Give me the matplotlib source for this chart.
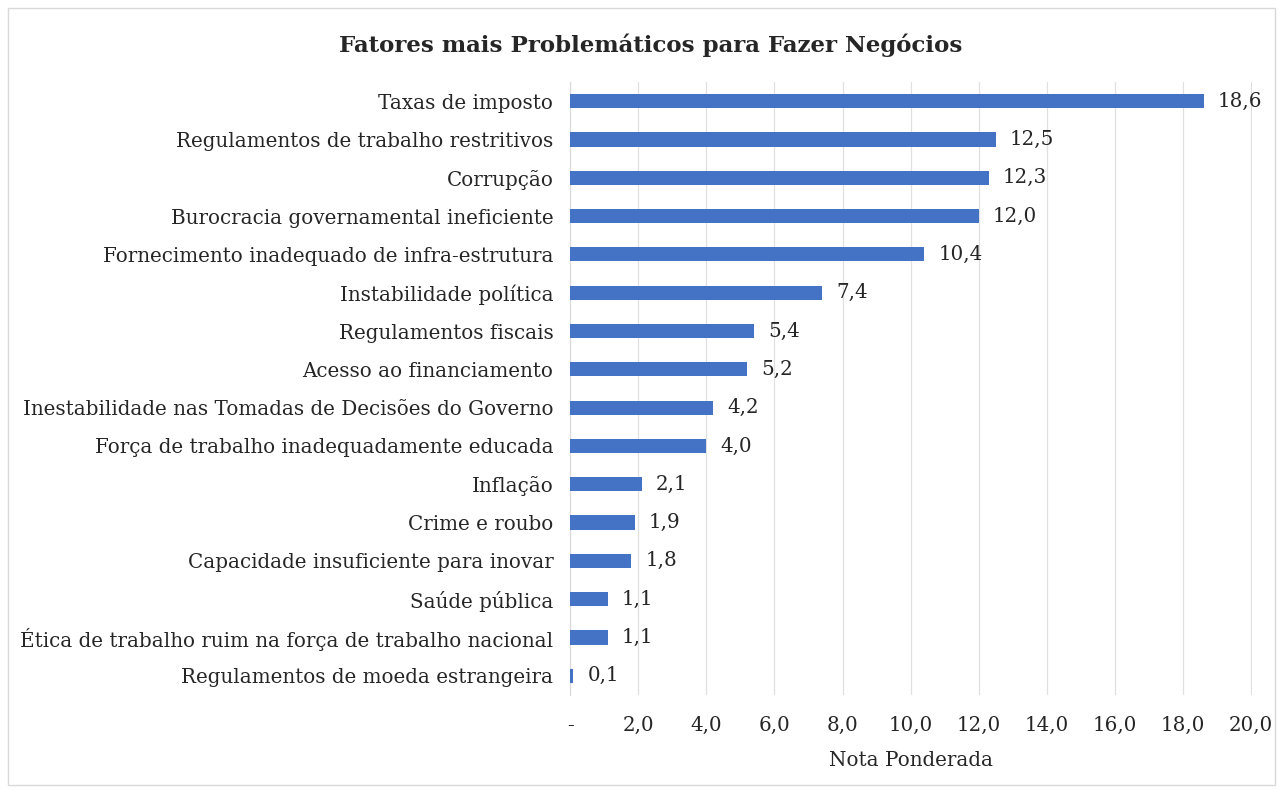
import matplotlib
matplotlib.use("Agg")
import matplotlib.pyplot as plt
from matplotlib.patches import Rectangle

categories = [
    "Taxas de imposto",
    "Regulamentos de trabalho restritivos",
    "Corrupção",
    "Burocracia governamental ineficiente",
    "Fornecimento inadequado de infra-estrutura",
    "Instabilidade política",
    "Regulamentos fiscais",
    "Acesso ao financiamento",
    "Inestabilidade nas Tomadas de Decisões do Governo",
    "Força de trabalho inadequadamente educada",
    "Inflação",
    "Crime e roubo",
    "Capacidade insuficiente para inovar",
    "Saúde pública",
    "Ética de trabalho ruim na força de trabalho nacional",
    "Regulamentos de moeda estrangeira",
]
values = [18.6, 12.5, 12.3, 12.0, 10.4, 7.4, 5.4, 5.2, 4.2, 4.0, 2.1, 1.9, 1.8, 1.1, 1.1, 0.1]
xticks = [0, 2, 4, 6, 8, 10, 12, 14, 16, 18, 20]
xticklabels = ["-", "2,0", "4,0", "6,0", "8,0", "10,0", "12,0", "14,0", "16,0", "18,0", "20,0"]

FS = 14.3
plt.rcParams['font.family'] = ['DejaVu Serif']
fig = plt.figure(figsize=(12.83, 7.9), dpi=100)
fig.patches.append(Rectangle((0.006, 0.006), 0.988, 0.984, transform=fig.transFigure,
                             fill=False, edgecolor="#d9d9d9", linewidth=1))
ax = fig.add_axes([0.4443, 0.1203, 0.5315, 0.7759])

n = len(categories)
ypos = list(range(n))
ax.barh(ypos, values, height=0.37, color="#4472c4", zorder=3)
ax.set_ylim(n - 0.5, -0.5)
ax.set_xlim(0, 20.02)
ax.set_yticks(ypos)
ax.set_yticklabels(categories, fontsize=FS, color="#262626")
ax.set_xticks(xticks)
ax.set_xticklabels(xticklabels, fontsize=FS, color="#262626")
ax.tick_params(axis='both', length=0)
ax.tick_params(axis='y', pad=12)
ax.tick_params(axis='x', pad=15)
ax.grid(axis='x', color="#e0e0e0", linewidth=0.9, zorder=0)
for s in ["top", "right", "bottom"]:
    ax.spines[s].set_visible(False)
ax.spines["left"].set_color("#d9d9d9")

for y, v in zip(ypos, values):
    ax.annotate(f"{v:.1f}".replace(".", ","), (v, y), xytext=(10, 0), textcoords="offset points",
                va="center", ha="left", fontsize=FS, color="#262626")

ax.set_xlabel("Nota Ponderada", fontsize=FS, color="#262626", labelpad=12)
fig.text(0.507, 0.943, "Fatores mais Problemáticos para Fazer Negócios", ha="center", va="center",
         fontsize=16.5, fontweight="bold", color="#262626")

fig.savefig("out.png", dpi=100)
